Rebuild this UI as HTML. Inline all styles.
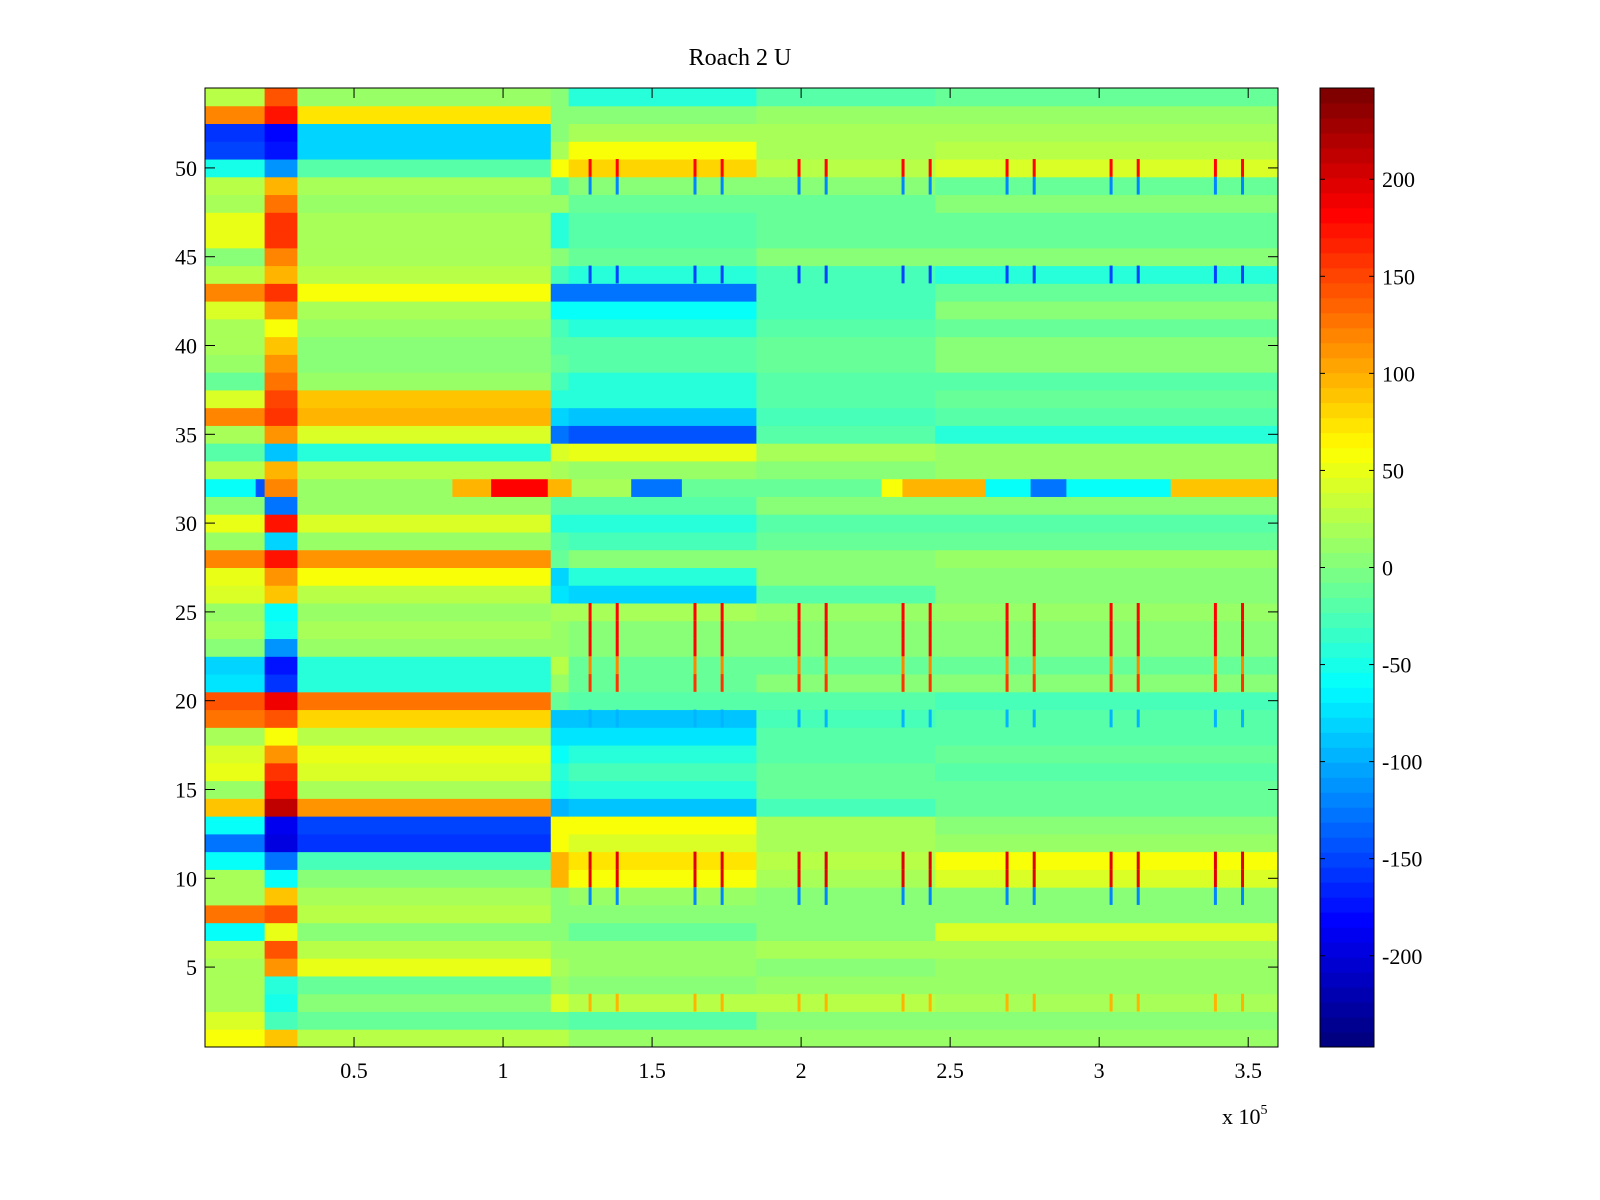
<!DOCTYPE html>
<html><head><meta charset="utf-8"><title>Roach 2 U</title>
<style>
html,body{margin:0;padding:0;background:#fff;}
svg{display:block;font-family:"Liberation Serif",serif;}
</style></head>
<body>
<svg id="chart" width="1600" height="1200" viewBox="0 0 1600 1200" xmlns="http://www.w3.org/2000/svg">
<rect x="0" y="0" width="1600" height="1200" fill="#fff"/>
<text x="740" y="65" text-anchor="middle" font-size="24">Roach 2 U</text>
<g id="cells"></g>
<g id="spikes"></g>
<g id="cbar"></g>
<g id="axes"></g>
</svg>
<script>
// x segment edges (data units)
const segEdges = [0, 20000, 31000, 116000, 122000, 185000, 245000, 360000];
// row values per segment, rows 1..54 (bottom to top)
const rowValues = [
 [60,90,30,30,10,10,10],      //1
 [40,-30,-10,-10,-20,0,0],    //2
 [20,-50,0,40,30,30,20],      //3
 [20,-40,-10,10,0,10,10],     //4
 [20,110,50,20,10,0,10],      //5
 [30,140,30,10,10,20,20],     //6
 [-60,50,0,0,-10,0,40],       //7
 [130,140,30,0,0,0,0],        //8
 [20,90,20,0,10,0,0],         //9
 [20,-60,0,100,60,20,40],     //10
 [-60,-130,-30,100,70,30,60], //11
 [-130,-200,-160,60,40,20,10],//12
 [-60,-190,-150,60,60,20,0],  //13
 [90,210,110,-100,-90,-30,-10],//14
 [10,170,20,-50,-40,-10,-10], //15
 [50,160,40,-40,-30,-10,-20], //16
 [40,110,50,-60,-40,-20,-10], //17
 [20,60,30,-70,-70,-20,-20],  //18
 [130,140,80,-90,-90,-30,-20],//19
 [140,190,130,-10,-20,-20,-30],//20
 [-70,-160,-40,10,-10,0,0],   //21
 [-80,-170,-40,30,-10,-10,-10],//22
 [0,-110,10,10,0,0,0],        //23
 [20,-50,20,10,0,0,0],        //24
 [10,-60,10,20,20,10,10],     //25
 [40,90,30,-70,-80,-20,0],    //26
 [50,110,60,-80,-40,0,0],     //27
 [120,170,110,-10,0,0,10],    //28
 [10,-80,10,-20,-30,-10,-10], //29
 [50,170,40,-40,-40,-20,-20], //30
 [0,-130,10,-20,-20,0,0],     //31
 [-60,120,10,80,-40,30,0],    //32 (detailed below)
 [30,100,30,20,10,0,10],      //33
 [-20,-90,-40,40,50,20,10],   //34
 [20,110,40,-130,-140,-20,-40],//35
 [120,160,100,-80,-90,-30,-20],//36
 [40,150,90,-40,-40,-20,-10], //37
 [-10,130,10,-30,-40,-20,-20],//38
 [10,110,0,-10,-20,-10,0],    //39
 [20,90,0,-20,-20,-10,0],     //40
 [20,60,10,-30,-40,-20,-10],  //41
 [40,110,20,-60,-60,-30,0],   //42
 [120,160,60,-130,-130,-30,-10],//43
 [30,100,30,-30,-40,-30,-40], //44
 [0,120,20,0,-10,0,0],        //45
 [50,160,20,-40,-20,-10,-10], //46
 [50,160,20,-40,-20,-10,-10], //47
 [20,130,10,10,-10,-10,0],    //48
 [30,100,20,-20,0,0,-10],     //49
 [-50,-110,-20,60,80,30,40],  //50
 [-150,-170,-80,20,60,20,30], //51
 [-160,-180,-80,0,20,20,20],  //52
 [120,170,70,0,0,10,10],      //53
 [30,140,10,0,-40,-20,-10]    //54
];
// row 32 detailed segments
const row32Edges = [0,17000,20000,31000,83000,96000,115000,123000,143000,160000,227000,234000,262000,277000,289000,324000,360000];
const row32Values = [-60,-140,120,10,100,180,100,20,-130,-10,60,100,-60,-130,-60,90];
// spike columns (data units) and rows with spike values
const spikeX = [129200,138300,164400,173500,199300,208400,234200,243300,269100,278200,304000,313100,339000,348100];
const spikeRows = [3,9,10,11,19,21,22,23,24,25,44,49,50];
const spikeVals = [100,-120,200,200,-100,160,120,180,180,180,-150,-120,180];
const xTicks = [0.5,1,1.5,2,2.5,3,3.5];
const yTicks = [5,10,15,20,25,30,35,40,45,50];
const cTicks = [200,150,100,50,0,-50,-100,-150,-200];

const L=205,R=1278,T=88,B=1047;
const xMin=0,xMax=360000,yMin=0.5,yMax=54.5,cMin=-247,cMax=247;
const CL=1320,CR=1374;
function xs(v){return L+(v-xMin)/(xMax-xMin)*(R-L);}
function ys(v){return T+(yMax-v)/(yMax-yMin)*(B-T);}
function cs(v){return T+(cMax-v)/(cMax-cMin)*(B-T);}
function jet(v){
  let t=(v-cMin)/(cMax-cMin); t=Math.max(0,Math.min(1,t));
  t=Math.min(63,Math.floor(t*64))/63;
  const c=x=>Math.round(255*Math.max(0,Math.min(1,x)));
  return `rgb(${c(1.5-Math.abs(4*t-3))},${c(1.5-Math.abs(4*t-2))},${c(1.5-Math.abs(4*t-1))})`;
}
const NS="http://www.w3.org/2000/svg";
function mk(tag,attrs,parent){const e=document.createElementNS(NS,tag);for(const k in attrs)e.setAttribute(k,attrs[k]);parent.appendChild(e);return e;}

const cells=document.getElementById('cells');
rowValues.forEach((vals,i)=>{
  const row=i+1;
  const edges=row===32?row32Edges:segEdges;
  const vv=row===32?row32Values:vals;
  for(let s=0;s<vv.length;s++){
    const x0=xs(edges[s]),x1=xs(edges[s+1]);
    const r=mk('rect',{x:x0,y:ys(row+0.5),width:x1-x0+0.5,height:ys(row-0.5)-ys(row+0.5)+0.5,fill:jet(vv[s])},cells);
    
    
  }
});
const sp=document.getElementById('spikes');
spikeX.forEach(sx=>{
  spikeRows.forEach((row,j)=>{
    const r=mk('rect',{x:xs(sx)-1.5,y:ys(row+0.5),width:3,height:ys(row-0.5)-ys(row+0.5),fill:jet(spikeVals[j])},sp);
    
    
  });
});

// colorbar
const cb=document.getElementById('cbar');
for(let k=0;k<64;k++){
  const v0=cMin+k*(cMax-cMin)/64, v1=cMin+(k+1)*(cMax-cMin)/64;
  const r=mk('rect',{x:CL,y:cs(v1),width:CR-CL,height:cs(v0)-cs(v1)+0.5,fill:jet((v0+v1)/2)},cb);
  
  
}
mk('rect',{x:CL,y:T,width:CR-CL,height:B-T,fill:'none',stroke:'#000','stroke-width':1},cb);
cTicks.forEach(v=>{
  const y=cs(v);
  mk('line',{x1:CL,x2:CL+5,y1:y,y2:y,stroke:'#000'},cb);
  mk('line',{x1:CR-5,x2:CR,y1:y,y2:y,stroke:'#000'},cb);
  const t=mk('text',{x:1382,y:y+8,'font-size':22},cb);
  t.textContent=String(v);
  
  
});

// axes
const ax=document.getElementById('axes');
mk('rect',{x:L,y:T,width:R-L,height:B-T,fill:'none',stroke:'#000','stroke-width':1},ax);
xTicks.forEach(v=>{
  const x=xs(v*1e5);
  mk('line',{x1:x,x2:x,y1:B,y2:B-10,stroke:'#000'},ax);
  mk('line',{x1:x,x2:x,y1:T,y2:T+10,stroke:'#000'},ax);
  const t=mk('text',{x:x,y:1078,'text-anchor':'middle','font-size':22},ax);
  t.textContent=String(v);
  
  
});
yTicks.forEach(v=>{
  const y=ys(v);
  mk('line',{x1:L,x2:L+10,y1:y,y2:y,stroke:'#000'},ax);
  mk('line',{x1:R-10,x2:R,y1:y,y2:y,stroke:'#000'},ax);
  const t=mk('text',{x:197,y:y+8,'text-anchor':'end','font-size':22},ax);
  t.textContent=String(v);
  
  
});
const ex=mk('text',{x:1222,y:1124,'font-size':22},ax);
ex.innerHTML='x 10<tspan dy="-10" font-size="14">5</tspan>';


</script>
</body></html>
